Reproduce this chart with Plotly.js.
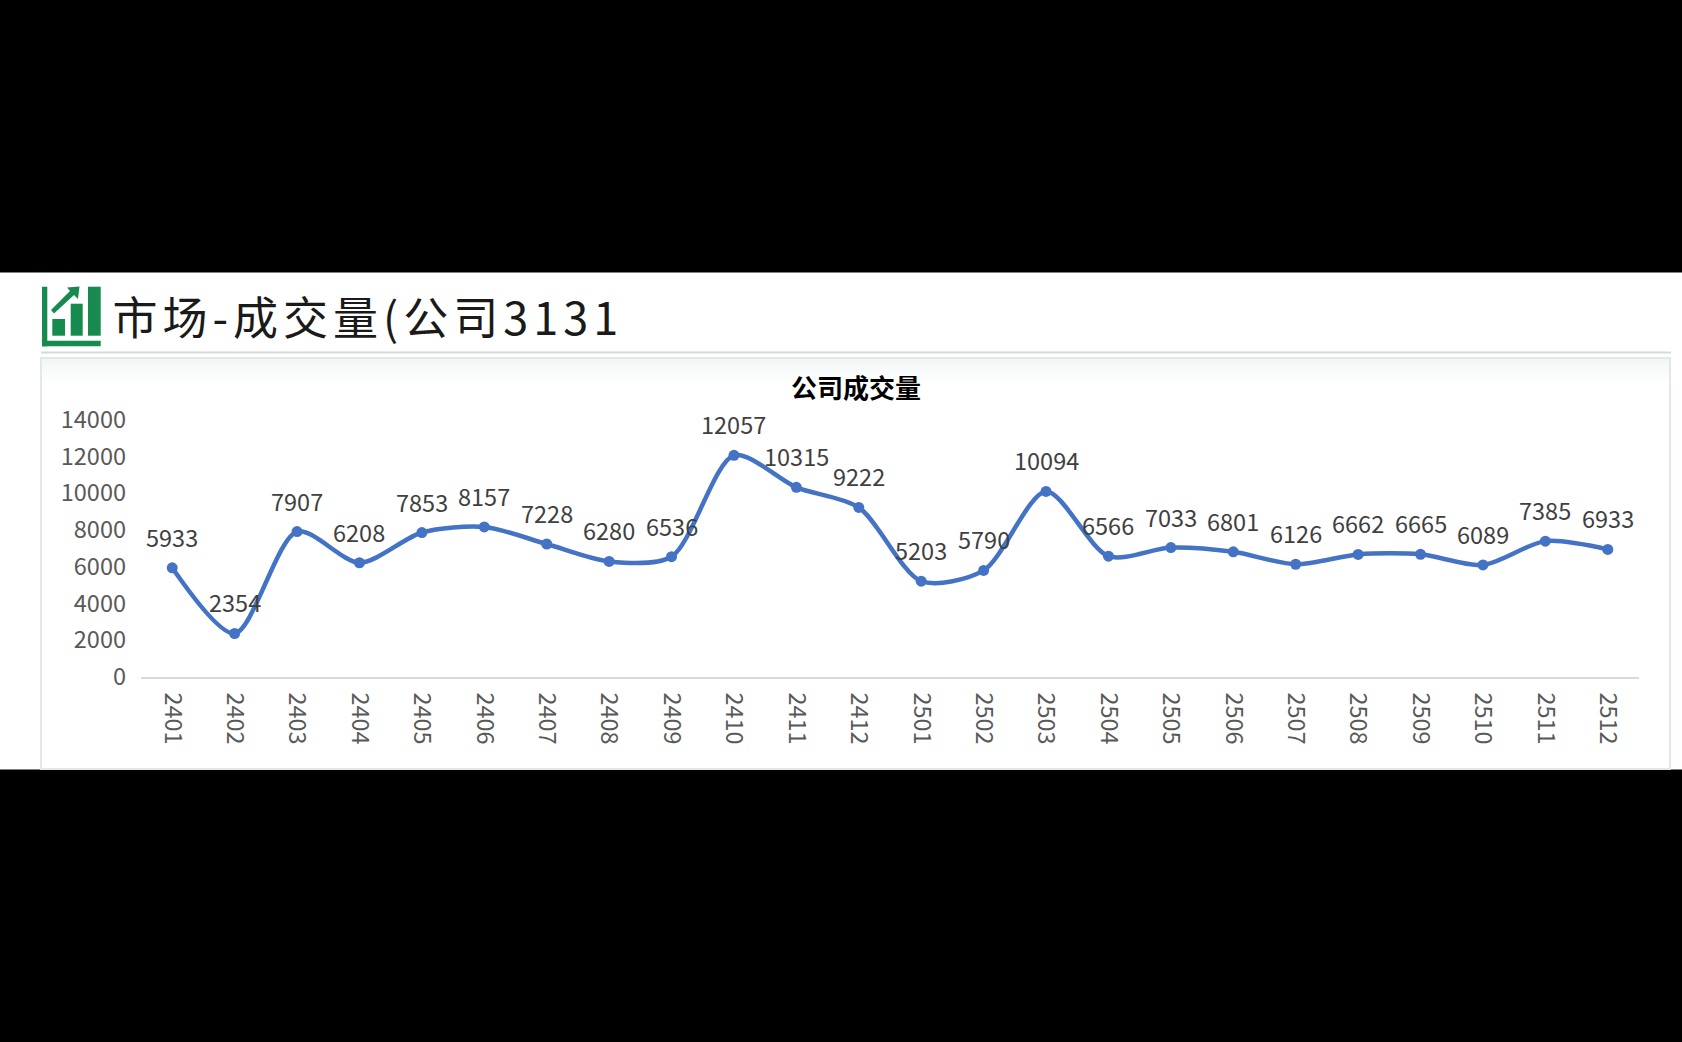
<!DOCTYPE html>
<html>
<head>
<meta charset="utf-8">
<script src="https://cdn.plot.ly/plotly-3.0.1.min.js"></script>
<style>
html,body{margin:0;padding:0;background:#000;overflow:hidden}
#chart{width:1682px;height:1042px}
.annotation[data-index="0"] text{letter-spacing:5px}
</style>
</head>
<body>
<div id="chart"></div>
<script>
const months = ["2401","2402","2403","2404","2405","2406","2407","2408","2409","2410","2411","2412","2501","2502","2503","2504","2505","2506","2507","2508","2509","2510","2511","2512"];
const volume = [5933,2354,7907,6208,7853,8157,7228,6280,6536,12057,10315,9222,5203,5790,10094,6566,7033,6801,6126,6662,6665,6089,7385,6933];
const pageTitle = "市场-成交量(公司3131";
const chartTitle = "公司成交量";
const font = '"Noto Sans CJK SC","Noto Sans",sans-serif';

const W = 1682, H = 1042;
const px = v => v / W, py = v => 1 - v / H;
const rect = (x0, y0, x1, y1, fill, line) => ({type:'rect', xref:'paper', yref:'paper', layer:'below',
  x0:px(x0), x1:px(x1), y0:py(y0), y1:py(y1), fillcolor:fill, line:line || {width:0}});

const shapes = [
  rect(0, 272.5, W, 769.5, '#ffffff'),
  rect(41, 358, 1670, 769, '#ffffff', {color:'#E4E7E7', width:2}),
  rect(41, 351.5, 1671, 353.5, '#D6D8D8')
];
// soft tint along the top of the card
['#F2F7F6','#F5F9F8','#F7FAFA','#F9FBFB','#FBFCFC','#FDFEFE'].forEach((c, i) => {
  shapes.push(rect(42, 359 + i * 4, 1669, 363 + i * 4, c));
});
// header icon
const green = '#178A50';
const poly = (pts, fill) => ({type:'path', xref:'paper', yref:'paper', layer:'below',
  path:'M' + pts.map(p => px(p[0]) + ',' + py(p[1])).join('L') + 'Z', fillcolor:fill, line:{width:0}});
shapes.push(rect(42, 286.7, 47.3, 346.3, green));
shapes.push(rect(42, 340.7, 100.7, 346.3, green));
shapes.push(rect(52.3, 319, 65, 335.7, green));
shapes.push(rect(70.7, 303.7, 82.7, 335.7, green));
shapes.push(rect(88, 286.7, 100.7, 335.7, green));
shapes.push(poly([[51,310],[70,291],[67,287.5],[79.5,286.5],[78,299],[74,295],[54,313.5]], green));

const annotations = [{
  xref:'paper', yref:'paper', x:px(143), y:py(315), xanchor:'left', yanchor:'middle',
  text:pageTitle, showarrow:false, font:{family:font, size:45, color:'#1a1a1a'}
}];
months.forEach((m, i) => annotations.push({
  x:i, y:volume[i], xref:'x', yref:'y', text:String(volume[i]), showarrow:false,
  yshift:31, xanchor:'center', yanchor:'middle', font:{family:font, size:23.5, color:'#404040'}
}));

const trace = {
  type:'scatter', mode:'lines+markers', x:months, y:volume,
  line:{color:'#4472C4', width:4.5, shape:'spline', smoothing:0.8},
  marker:{color:'#4472C4', size:11}, hoverinfo:'x+y'
};

const layout = {
  width:W, height:H, margin:{l:0, r:0, t:0, b:0, pad:0},
  paper_bgcolor:'#000000', plot_bgcolor:'rgba(0,0,0,0)', showlegend:false,
  title:{text:chartTitle, xref:'paper', yref:'paper', x:px(856), y:py(389), xanchor:'center', yanchor:'middle',
         font:{family:font, size:26, weight:700, color:'#000000'}},
  xaxis:{type:'category', domain:[px(141), px(1639)], range:[-0.5, 23.5], autorange:false,
         categoryorder:'array', categoryarray:months, tickmode:'array', tickvals:months, ticktext:months,
         showgrid:false, zeroline:false, showline:true, linecolor:'#D9D9D9', linewidth:2,
         ticks:'', tickangle:90, tickfont:{family:font, size:23.5, color:'#595959'}, ticklabelstandoff:9, automargin:false},
  yaxis:{domain:[py(676.7), py(419.7)], range:[0,14000], autorange:false, dtick:2000, tick0:0,
         showgrid:false, zeroline:false, showline:false,
         ticks:'', tickformat:'d', tickfont:{family:font, size:23.5, color:'#595959'}, automargin:false, ticklabelstandoff:14},
  shapes, annotations
};
Plotly.newPlot('chart', [trace], layout, {displayModeBar:false, staticPlot:true});
</script>
</body>
</html>
